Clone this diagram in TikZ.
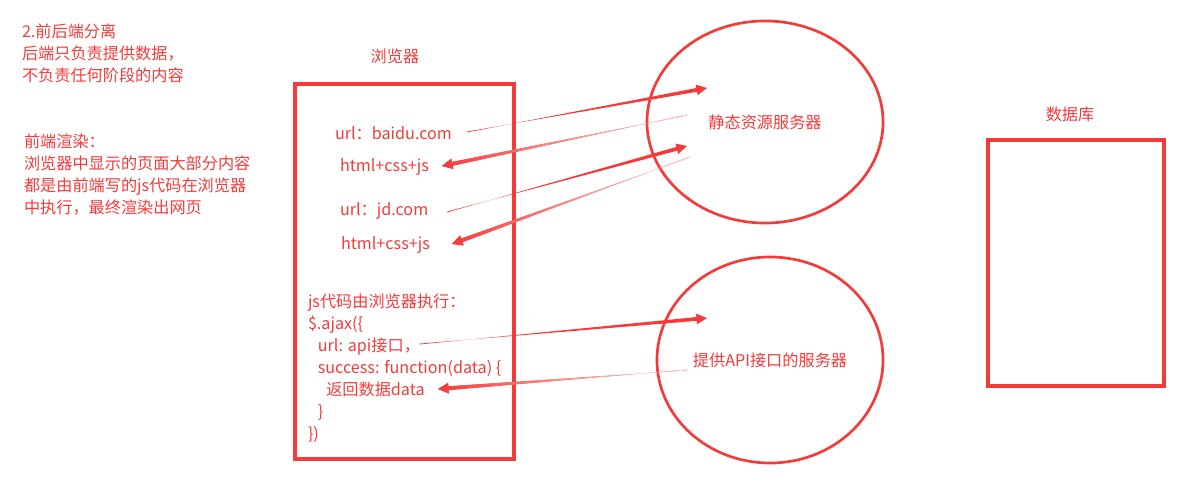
\documentclass[tikz,border=0pt]{standalone}
\usepackage{fontspec}
\setmainfont{Noto Sans CJK SC}
\usetikzlibrary{shapes.geometric,calc}
\definecolor{rd}{RGB}{245,58,58}
\newcommand\taperarrow[3][]{%
  \path ($(#3)!7.5pt!(#2)$) coordinate (tmpH);
  \path[fill=rd,#1] ($(#2)!0.3pt!90:(#3)$) -- ($(tmpH)!1.35pt!-90:(#3)$) -- ($(tmpH)!3.8pt!-90:(#3)$) -- (#3)
     -- ($(tmpH)!3.8pt!90:(#3)$) -- ($(tmpH)!1.35pt!90:(#3)$) -- ($(#2)!0.3pt!-90:(#3)$) -- cycle;
}
\begin{document}
\begin{tikzpicture}[x=0.025cm,y=-0.025cm,
  txt/.style={text=rd,font=\fontsize{11.5}{15.6}\selectfont,inner sep=0pt,outer sep=0pt},
  boxed/.style={draw=rd,line width=2.4pt,inner sep=0pt,outer sep=0pt},
  server/.style={ellipse,draw=rd,line width=1.9pt,inner sep=0pt,outer sep=0pt,text=rd,font=\fontsize{11.5}{14}\selectfont},
  fade/.style={left color=rd,right color=rd!12,shading angle=90}]
\useasboundingbox (0,0) rectangle (1188,492);
% notes
\node[txt,anchor=west,align=left] (note1) at (22,53) {2.前后端分离\\后端只负责提供数据，\\不负责任何阶段的内容};
\node[txt,anchor=west,align=left] (note2) at (24,174.5) {前端渲染：\\浏览器中显示的页面大部分内容\\都是由前端写的js代码在浏览器\\中执行，最终渲染出网页};
% browser
\node[txt] (browserlbl) at (395,56) {浏览器};
\node[boxed,minimum width=5.475cm,minimum height=9.375cm] (browser) at (404.5,271.5) {};
\node[txt,anchor=west] (url1) at (335,133) {url：baidu.com};
\node[txt,anchor=west] (res1) at (340,167) {html+css+js};
\node[txt,anchor=west] (url2) at (340,211) {url：jd.com};
\node[txt,anchor=west] (res2) at (341,245) {html+css+js};
\node[txt,anchor=west,align=left] (code) at (308,368) {js代码由浏览器执行：\\\$.ajax(\{\\\hspace*{7pt}url: api接口，\\\hspace*{7pt}success: function(data) \{\\\hspace*{13pt}返回数据data\\\hspace*{7pt}\}\\\})};
% servers
\node[server,minimum width=5.9cm,minimum height=5.05cm] (static) at (765,122) {静态资源服务器};
\node[server,minimum width=5.65cm,minimum height=5.15cm] (api) at (770,360) {提供API接口的服务器};
% database
\node[txt] (dblbl) at (1070,114) {数据库};
\node[boxed,minimum width=4.4cm,minimum height=6.15cm] (db) at (1076,263) {};
% arrow ends
\coordinate (s1) at (467,132); \coordinate (e1) at (707,88);
\coordinate (s2) at (687,115); \coordinate (e2) at (442,166);
\coordinate (s3) at (447,212); \coordinate (e3) at (687,146);
\coordinate (s4) at (690,157); \coordinate (e4) at (452,244);
\coordinate (s5) at (420,344); \coordinate (e5) at (707,318);
\coordinate (s6) at (687,370); \coordinate (e6) at (438,389);
\taperarrow{s1}{e1}
\taperarrow[fade]{s2}{e2}
\taperarrow{s3}{e3}
\taperarrow[fade]{s4}{e4}
\taperarrow{s5}{e5}
\taperarrow[fade]{s6}{e6}
\end{tikzpicture}
\end{document}
